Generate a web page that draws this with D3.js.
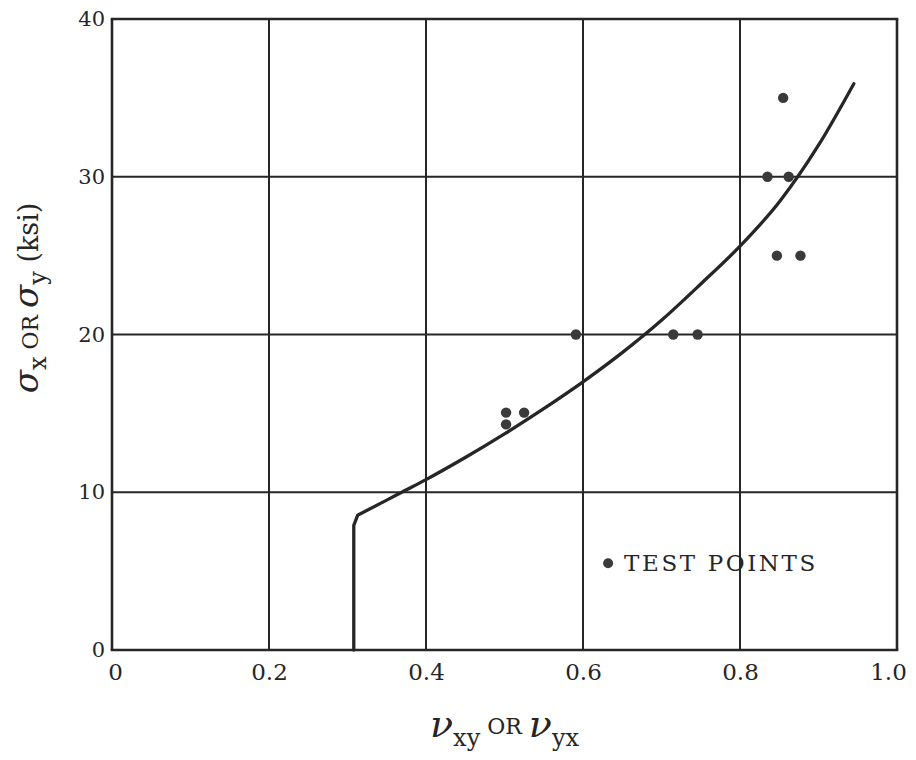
<!DOCTYPE html>
<html><head><meta charset="utf-8">
<script src="https://cdn.jsdelivr.net/npm/d3@7"></script>
<style>body{margin:0;background:#fff}</style>
</head><body>
<svg id="c" width="916" height="760"></svg>
<script>
// Data
const xTicks = [0, 0.2, 0.4, 0.6, 0.8, 1.0];
const xTickLabels = ["0", "0.2", "0.4", "0.6", "0.8", "1.0"];
const yTicks = [0, 10, 20, 30, 40];
const yTickLabels = ["0", "10", "20", "30", "40"];
// vertical segment + rounded corner of the curve
const vertNu = [0.308, 0.308, 0.313];
const vertSigma = [0, 7.9, 8.55];
// rising part of the curve
const curveNu = [0.313, 0.35, 0.371, 0.4, 0.45, 0.5, 0.55, 0.6, 0.65, 0.7, 0.75, 0.8, 0.85, 0.9, 0.945];
const curveSigma = [8.55, 9.5, 10.05, 10.8, 12.2, 13.7, 15.3, 17.0, 18.85, 20.9, 23.2, 25.6, 28.4, 32.0, 35.9];
const testNu = [0.502, 0.502, 0.525, 0.591, 0.715, 0.746, 0.835, 0.862, 0.855, 0.847, 0.877];
const testSigma = [15.05, 14.3, 15.05, 20, 20, 20, 30, 30, 35, 25, 25];
const legendLabel = "TEST POINTS";

const svg = d3.select("#c");
const L = 112, R = 897, T = 19, B = 650;
const x = d3.scaleLinear().domain([0, 1]).range([L, R]);
const y = d3.scaleLinear().domain([0, 40]).range([B, T]);
const ink = "#262626";
const font = "'DejaVu Serif', 'Liberation Serif', serif";

// grid
svg.append("g").selectAll("line").data(xTicks).join("line")
  .attr("x1", d => x(d)).attr("x2", d => x(d)).attr("y1", T).attr("y2", B)
  .attr("stroke", ink).attr("stroke-width", (d, i) => (i === 0 || i === xTicks.length - 1) ? 2.6 : 2);
svg.append("g").selectAll("line").data(yTicks).join("line")
  .attr("y1", d => y(d)).attr("y2", d => y(d)).attr("x1", L).attr("x2", R)
  .attr("stroke", ink).attr("stroke-width", (d, i) => (i === 0 || i === yTicks.length - 1) ? 2.6 : 2)
  .attr("stroke-linecap", "square");

// tick labels via d3 axes (no lines)
const xAxis = svg.append("g").attr("transform", `translate(0,${B})`)
  .call(d3.axisBottom(x).tickValues(xTicks).tickSize(0).tickPadding(14).tickFormat((d, i) => xTickLabels[i]));
xAxis.select(".domain").remove();
xAxis.selectAll("text").attr("font-family", font).attr("font-size", 23).attr("fill", ink)
  .attr("dx", (d, i) => i === 0 ? 3 : (i === xTicks.length - 1 ? -9 : 0));
const yAxis = svg.append("g").attr("transform", `translate(${L},0)`)
  .call(d3.axisLeft(y).tickValues(yTicks).tickSize(0).tickPadding(7).tickFormat((d, i) => yTickLabels[i]));
yAxis.select(".domain").remove();
yAxis.selectAll("text").attr("font-family", font).attr("font-size", 21).attr("fill", ink);

// curve
const vpts = vertNu.map((v, i) => [v, vertSigma[i]]);
const cpts = curveNu.map((v, i) => [v, curveSigma[i]]);
const lineV = d3.line().x(d => x(d[0])).y(d => y(d[1])).curve(d3.curveLinear);
const lineC = d3.line().x(d => x(d[0])).y(d => y(d[1])).curve(d3.curveMonotoneX);
svg.append("path").attr("d", lineV(vpts) + lineC(cpts).replace(/^M[^LC]*/, ""))
  .attr("fill", "none").attr("stroke", ink).attr("stroke-width", 3.3)
  .attr("stroke-linejoin", "round").attr("stroke-linecap", "round");

// test points
svg.append("g").selectAll("circle").data(testNu.map((v, i) => [v, testSigma[i]])).join("circle")
  .attr("cx", d => x(d[0])).attr("cy", d => y(d[1])).attr("r", 5.2).attr("fill", "#3a3a3a");

// legend
const lg = svg.append("g");
lg.append("circle").attr("cx", x(0.632)).attr("cy", y(5.5)).attr("r", 5).attr("fill", "#3a3a3a");
lg.append("text").attr("x", x(0.632) + 16).attr("y", y(5.5) + 8).text(legendLabel)
  .attr("font-family", font).attr("font-size", 23).attr("letter-spacing", "2.6px").attr("fill", ink);

// y axis label
const yl = svg.append("text").attr("transform", "translate(38,298) rotate(-90)")
  .attr("text-anchor", "middle").attr("font-family", font).attr("fill", ink);
yl.append("tspan").attr("font-size", 34).attr("font-style", "italic").text("σ");
yl.append("tspan").attr("font-size", 24).attr("dy", 8).text("x");
yl.append("tspan").attr("font-size", 22).attr("dy", -8).text(" OR ");
yl.append("tspan").attr("font-size", 34).attr("font-style", "italic").text("σ");
yl.append("tspan").attr("font-size", 24).attr("dy", 8).text("y");
yl.append("tspan").attr("font-size", 27).attr("dy", -8).text(" (ksi)");

// x axis label
const xl = svg.append("text").attr("x", (L + R) / 2).attr("y", 737)
  .attr("text-anchor", "middle").attr("font-family", font).attr("fill", ink);
xl.append("tspan").attr("font-size", 38).attr("font-style", "italic").text("ν");
xl.append("tspan").attr("font-size", 24).attr("dy", 9).text("xy");
xl.append("tspan").attr("font-size", 22).attr("dy", -12).text(" OR ");
xl.append("tspan").attr("font-size", 38).attr("font-style", "italic").attr("dy", 3).text("ν");
xl.append("tspan").attr("font-size", 24).attr("dy", 9).text("yx");
</script>
</body></html>
